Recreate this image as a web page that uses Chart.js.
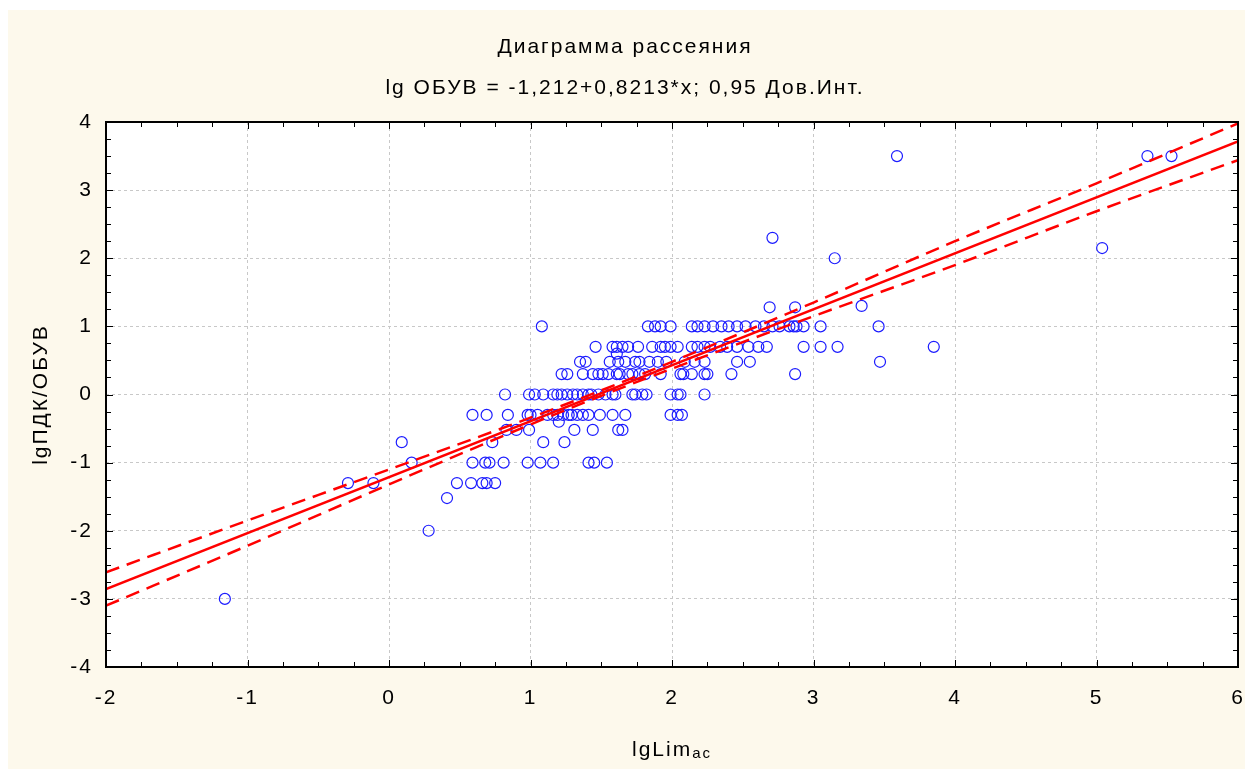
<!DOCTYPE html>
<html>
<head>
<meta charset="utf-8">
<script src="https://cdn.jsdelivr.net/npm/chart.js@4.4.1/dist/chart.umd.min.js"></script>
<style>
    html, body { margin: 0; padding: 0; background: #ffffff; }
    #wrap { width: 1245px; height: 769px; }
</style>
</head>
<body>
<div id="wrap"><canvas id="scatterChart" width="1245" height="769"></canvas></div>
<script>
// Observed points, grouped by the lgПДК/ОБУВ level they sit on
const levelY = [3.5, 2.3, 2.15, 2.0, 1.3, 1.28, 1.0, 0.7, 0.6, 0.48, 0.3, 0.0, -0.3, -0.4, -0.52, -0.7, -1.0, -1.3, -1.52, -2.0, -3.0];
const levelX = [
    [3.59, 5.36, 5.53],
    [2.71],
    [5.04],
    [3.15],
    [3.34],
    [2.69, 2.87],
    [1.08, 1.83, 1.88, 1.92, 1.99, 2.14, 2.18, 2.23, 2.29, 2.35, 2.40, 2.46, 2.52, 2.59, 2.65, 2.71, 2.76, 2.83, 2.86, 2.88, 2.93, 3.05, 3.46],
    [1.46, 1.58, 1.61, 1.65, 1.69, 1.76, 1.86, 1.92, 1.95, 1.99, 2.04, 2.14, 2.18, 2.23, 2.27, 2.34, 2.39, 2.46, 2.54, 2.61, 2.67, 2.93, 3.05, 3.17, 3.85],
    [1.61],
    [1.35, 1.39, 1.56, 1.62, 1.67, 1.74, 1.77, 1.84, 1.90, 1.96, 2.09, 2.16, 2.23, 2.46, 2.55, 3.47],
    [1.22, 1.26, 1.37, 1.44, 1.48, 1.51, 1.55, 1.61, 1.63, 1.69, 1.72, 1.77, 1.81, 1.92, 2.06, 2.08, 2.14, 2.23, 2.25, 2.42, 2.87],
    [0.82, 0.99, 1.03, 1.09, 1.16, 1.19, 1.22, 1.26, 1.30, 1.33, 1.37, 1.41, 1.43, 1.48, 1.53, 1.58, 1.60, 1.72, 1.74, 1.79, 1.82, 1.99, 2.04, 2.06, 2.23],
    [0.59, 0.69, 0.84, 0.98, 1.00, 1.05, 1.12, 1.16, 1.19, 1.23, 1.27, 1.29, 1.33, 1.37, 1.41, 1.49, 1.58, 1.67, 1.99, 2.04, 2.07],
    [1.20],
    [0.83, 0.90, 0.99, 1.31, 1.44, 1.62, 1.65],
    [0.09, 0.73, 1.09, 1.24],
    [0.16, 0.59, 0.68, 0.71, 0.81, 0.98, 1.07, 1.16, 1.41, 1.45, 1.54],
    [-0.29, -0.11, 0.48, 0.58, 0.66, 0.69, 0.75],
    [0.41],
    [0.28],
    [-1.16]
];

// Regression line lg ОБУВ = -1,212 + 0,8213*x (end points)
const fitX = [-2, 6];
const fitY = [-2.855, 3.716];

// 0,95 confidence band
const bandX = [-2, -1, 0, 1, 1.5, 2, 3, 4, 5, 6];
const bandUpper = [-2.61, -1.85, -1.10, -0.34, 0.06, 0.48, 1.35, 2.25, 3.10, 3.98];
const bandLower = [-3.10, -2.22, -1.32, -0.44, -0.02, 0.38, 1.15, 1.90, 2.69, 3.44];

const FONT = "'Liberation Sans', Arial, sans-serif";
const SPACING = '2px';

function toPoints(xs, ys) {
    return xs.map((x, i) => ({ x: x, y: ys[i] }));
}

const scatterPoints = [];
levelX.forEach((xs, i) => {
    xs.forEach(x => scatterPoints.push({ x: x, y: levelY[i] }));
});

// background, frame with inside ticks, x axis title with subscript
const framePlugin = {
    id: 'frame',
    beforeUpdate(chart) {
        chart.ctx.letterSpacing = SPACING;
    },
    beforeDraw(chart) {
        const { ctx, chartArea: a, width, height } = chart;
        ctx.letterSpacing = SPACING;
        ctx.save();
        ctx.fillStyle = '#ffffff';
        ctx.fillRect(0, 0, width, height);
        ctx.fillStyle = '#fdf9ec';
        ctx.fillRect(8, 10, width - 8, height - 10);
        ctx.fillStyle = '#ffffff';
        ctx.fillRect(a.left, a.top, a.right - a.left, a.bottom - a.top);
        ctx.restore();
    },
    afterDraw(chart) {
        const { ctx, chartArea: a, scales } = chart;
        const xs = scales.x, ys = scales.y;
        ctx.save();
        ctx.strokeStyle = '#000000';
        ctx.lineWidth = 1;
        ctx.beginPath();
        for (let v = xs.min; v <= xs.max + 1e-9; v += 0.25) {
            const px = Math.round(xs.getPixelForValue(v)) + 0.5;
            const len = Math.abs(v - Math.round(v)) < 1e-9 ? 7 : 5;
            ctx.moveTo(px, a.bottom); ctx.lineTo(px, a.bottom - len);
            ctx.moveTo(px, a.top); ctx.lineTo(px, a.top + len);
        }
        for (let v = ys.min; v <= ys.max + 1e-9; v += 0.25) {
            const py = Math.round(ys.getPixelForValue(v)) + 0.5;
            const len = Math.abs(v - Math.round(v)) < 1e-9 ? 7 : 5;
            ctx.moveTo(a.left, py); ctx.lineTo(a.left + len, py);
            ctx.moveTo(a.right, py); ctx.lineTo(a.right - len, py);
        }
        ctx.stroke();
        ctx.lineWidth = 2;
        ctx.strokeRect(a.left, a.top, a.right - a.left, a.bottom - a.top);

        // lgLim with "ac" as subscript
        const main = 'lgLim', sub = 'ac';
        ctx.fillStyle = '#000000';
        ctx.textBaseline = 'alphabetic';
        ctx.font = '21px ' + FONT;
        const w1 = ctx.measureText(main).width;
        ctx.font = '15px ' + FONT;
        const w2 = ctx.measureText(sub).width;
        const cx = (a.left + a.right) / 2;
        const x0 = cx - (w1 + w2) / 2;
        ctx.font = '21px ' + FONT;
        ctx.textAlign = 'left';
        ctx.fillText(main, x0, 756);
        ctx.font = '15px ' + FONT;
        ctx.fillText(sub, x0 + w1, 758);
        ctx.restore();
    }
};

const ctx = document.getElementById('scatterChart').getContext('2d');
new Chart(ctx, {
    type: 'scatter',
    data: {
        datasets: [
            {
                label: 'fit',
                data: toPoints(fitX, fitY),
                showLine: true,
                borderColor: '#ff0000',
                borderWidth: 2.5,
                pointRadius: 0
            },
            {
                label: 'upper',
                data: toPoints(bandX, bandUpper),
                showLine: true,
                borderColor: '#ff0000',
                borderWidth: 2.5,
                borderDash: [14, 8],
                cubicInterpolationMode: 'monotone',
                pointRadius: 0
            },
            {
                label: 'lower',
                data: toPoints(bandX, bandLower),
                showLine: true,
                borderColor: '#ff0000',
                borderWidth: 2.5,
                borderDash: [14, 8],
                cubicInterpolationMode: 'monotone',
                pointRadius: 0
            },
            {
                label: 'points',
                data: scatterPoints,
                pointStyle: 'circle',
                pointRadius: 5.5,
                borderColor: '#1c1cff',
                borderWidth: 1.2,
                backgroundColor: 'rgba(0,0,0,0)'
            }
        ]
    },
    options: {
        responsive: false,
        animation: false,
        layout: { padding: { left: 12, right: 7, top: 0, bottom: 0 } },
        plugins: {
            legend: { display: false },
            tooltip: { enabled: false },
            title: {
                display: true,
                text: 'Диаграмма рассеяния',
                color: '#000000',
                font: { family: FONT, size: 21, weight: 'normal' },
                padding: { top: 34.4, bottom: 8 }
            },
            subtitle: {
                display: true,
                text: 'lg ОБУВ = -1,212+0,8213*x; 0,95 Дов.Инт.',
                color: '#000000',
                font: { family: FONT, size: 21, weight: 'normal' },
                padding: { top: 7.8, bottom: 21.4 }
            }
        },
        scales: {
            x: {
                type: 'linear',
                min: -2,
                max: 6,
                ticks: { stepSize: 1, color: '#000000', padding: 19, font: { family: FONT, size: 21 } },
                grid: { color: '#c8c8c8', lineWidth: 1, drawTicks: false },
                border: { display: false, dash: [3, 3] },
                afterFit(scale) {
                    scale.height = 102;
                    scale.paddingLeft = 0;
                    scale.paddingRight = 0;
                }
            },
            y: {
                type: 'linear',
                min: -4,
                max: 4,
                ticks: { stepSize: 1, color: '#000000', padding: 13, font: { family: FONT, size: 21 } },
                grid: { color: '#c8c8c8', lineWidth: 1, drawTicks: false },
                border: { display: false, dash: [3, 3] },
                title: {
                    display: true,
                    text: 'lgПДК/ОБУВ',
                    color: '#000000',
                    font: { family: FONT, size: 21 },
                    padding: { top: 16.6, bottom: 0 }
                },
                afterFit(scale) {
                    scale.width = 94;
                    scale.paddingTop = 0;
                    scale.paddingBottom = 0;
                }
            }
        }
    },
    plugins: [framePlugin]
});
</script>
</body>
</html>
